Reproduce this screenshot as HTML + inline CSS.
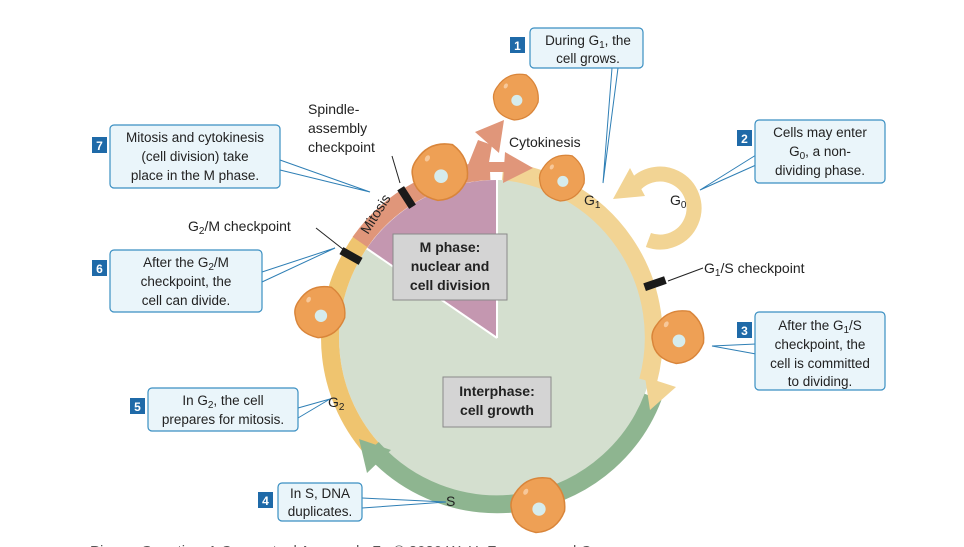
<!DOCTYPE html>
<html><head><meta charset="utf-8"><style>
body{margin:0;background:#fff;}
svg{display:block;font-family:"Liberation Sans","DejaVu Sans",sans-serif;}
</style></head><body>
<svg width="964" height="547" viewBox="0 0 964 547" xmlns="http://www.w3.org/2000/svg">
<defs>
<g id="cell">
<path d="M-22 -12 Q-10 -30 12 -26 Q28 -14 26 6 Q18 26 -2 27 Q-24 22 -26 4 Q-28 -4 -22 -12Z" fill="#eea055" stroke="#d9853a" stroke-width="1.5"/>
<circle cx="1" cy="4" r="6.5" fill="#d6eced"/>
<ellipse cx="-12" cy="-13" rx="2.2" ry="3.2" fill="#f7c89a" transform="rotate(30 -12 -13)"/>
</g>
</defs>
<rect width="964" height="547" fill="#fff"/>
<!-- inner disc -->
<circle cx="497" cy="338" r="159" fill="#d4dfcf"/>
<path d="M497 338 L497 179 A159 159 0 0 0 366 248 Z" fill="#c497b0"/>
<line x1="497" y1="179" x2="497" y2="338" stroke="#fff" stroke-width="2"/>
<line x1="366" y1="248" x2="497" y2="338" stroke="#fff" stroke-width="2"/>
<circle cx="497" cy="338" r="159" fill="none" stroke="#fff" stroke-width="2"/>
<!-- ring segments -->
<g fill="none" stroke-width="18">
<path d="M374.9 451.9 A167 167 0 0 1 352.4 254.5" stroke="#efc46f"/>
<path d="M352.4 254.5 A167 167 0 0 1 363 238" stroke="#efc46f"/>
<path d="M360 242 A167 167 0 0 1 490 171" stroke="#e0967a"/>
<path d="M502.8 171.1 A167 167 0 0 1 648 381" stroke="#f2d494"/>
<path d="M653 397 A167 167 0 0 1 372 448" stroke="#8eb590"/>
</g>
<!-- G0 loop -->
<path d="M648.4 240 A34 34 0 1 0 630.6 191" fill="none" stroke="#f2d494" stroke-width="15"/>
<polygon points="613,199 645,196 630,168" fill="#f2d494"/>
<!-- arrowheads -->
<polygon points="645,377 676,387 650,410" fill="#f2d494"/>
<polygon points="359,439 391,450 367,473" fill="#8eb590"/>
<!-- mitosis arrows -->
<polygon points="468,165 478,140 492,145 488,168" fill="#e0967a"/>
<polygon points="475,132 504,120 499,153" fill="#e0967a"/>
<polygon points="488,162 505,162 505,172 490,172" fill="#e0967a"/>
<polygon points="505,152 533,168 503,183" fill="#e0967a"/>
<!-- checkpoints -->
<g fill="#1a1a1a">
<rect x="-11" y="-4" width="22" height="8" transform="translate(406.6,197.5) rotate(-122.7)"/>
<rect x="-11" y="-4" width="22" height="8" transform="translate(351,256) rotate(-150.8)"/>
<rect x="-11" y="-4" width="22" height="8" transform="translate(655,283.6) rotate(-19)"/>
</g>
<!-- text on ring -->
<text x="0" y="0" font-size="14" fill="#222" transform="translate(368,235) rotate(-58)">Mitosis</text>
<text x="584" y="205" font-size="14" fill="#222">G<tspan font-size="10" dy="3">1</tspan></text>
<text x="670" y="205" font-size="14" fill="#222">G<tspan font-size="10" dy="3">0</tspan></text>
<text x="328" y="407" font-size="14" fill="#222">G<tspan font-size="10" dy="3">2</tspan></text>
<text x="446" y="506" font-size="14" fill="#222">S</text>
<!-- cells -->
<use href="#cell" transform="translate(516,97) scale(0.85)"/>
<use href="#cell" transform="translate(440,172) scale(1.05)"/>
<use href="#cell" transform="translate(562,178) scale(0.85)"/>
<use href="#cell" transform="translate(320,312) scale(0.95)"/>
<use href="#cell" transform="translate(678,337) scale(0.98)"/>
<use href="#cell" transform="translate(538,505) scale(1.02)"/>
<!-- center labels -->
<rect x="393" y="234" width="114" height="66" fill="#d4d4d4" stroke="#8a8a8a"/>
<text font-size="14" font-weight="bold" fill="#222" text-anchor="middle"><tspan x="450" y="252">M phase:</tspan><tspan x="450" y="271">nuclear and</tspan><tspan x="450" y="290">cell division</tspan></text>
<rect x="443" y="377" width="108" height="50" fill="#d4d4d4" stroke="#8a8a8a"/>
<text font-size="14" font-weight="bold" fill="#222" text-anchor="middle"><tspan x="497" y="396">Interphase:</tspan><tspan x="497" y="415">cell growth</tspan></text>
<!-- plain labels -->
<text font-size="14" fill="#222"><tspan x="308" y="114">Spindle-</tspan><tspan x="308" y="133">assembly</tspan><tspan x="308" y="152">checkpoint</tspan></text>
<line x1="392" y1="156" x2="400" y2="183" stroke="#222"/>
<text x="509" y="147" font-size="14" fill="#222">Cytokinesis</text>
<text x="188" y="231" font-size="14" fill="#222">G<tspan font-size="10" dy="3">2</tspan><tspan dy="-3">/M checkpoint</tspan></text>
<line x1="316" y1="228" x2="344" y2="250" stroke="#222"/>
<text x="704" y="273" font-size="14" fill="#222">G<tspan font-size="10" dy="3">1</tspan><tspan dy="-3">/S checkpoint</tspan></text>
<line x1="668" y1="281" x2="703" y2="268" stroke="#222"/>
<!-- leader lines -->
<g stroke="#2f7fb5" stroke-width="1" fill="none">
<polyline points="612,68 603,183 618,68"/>
<polyline points="756,155 700,190 756,165"/>
<polyline points="756,344 712,346 756,354"/>
<polyline points="362,498 446,502 362,508"/>
<polyline points="298,408 330,399 298,418"/>
<polyline points="262,272 335,248 262,282"/>
<polyline points="280,160 370,192 280,170"/>
</g>
<!-- callouts -->
<g fill="#eaf5fa" stroke="#3a8fc2" stroke-width="1.2">
<rect x="530" y="28" width="113" height="40" rx="4"/>
<rect x="755" y="120" width="130" height="63" rx="4"/>
<rect x="755" y="312" width="130" height="78" rx="4"/>
<rect x="278" y="483" width="84" height="38" rx="4"/>
<rect x="148" y="388" width="150" height="43" rx="4"/>
<rect x="110" y="250" width="152" height="62" rx="4"/>
<rect x="110" y="125" width="170" height="63" rx="4"/>
</g>
<g fill="#1f6aa8">
<rect x="510" y="37" width="15" height="16"/><rect x="737" y="130" width="15" height="16"/>
<rect x="737" y="322" width="15" height="16"/><rect x="258" y="492" width="15" height="16"/>
<rect x="130" y="398" width="15" height="16"/><rect x="92" y="260" width="15" height="16"/>
<rect x="92" y="137" width="15" height="16"/>
</g>
<g fill="#fff" font-size="12" font-weight="bold" text-anchor="middle">
<text x="517.5" y="50">1</text><text x="744.5" y="143">2</text><text x="744.5" y="335">3</text>
<text x="265.5" y="505">4</text><text x="137.5" y="411">5</text><text x="99.5" y="273">6</text><text x="99.5" y="150">7</text>
</g>
<g font-size="13.5" fill="#222" text-anchor="middle">
<text><tspan x="588" y="45">During G<tspan font-size="10" dy="3">1</tspan><tspan dy="-3">, the</tspan></tspan><tspan x="588" y="63">cell grows.</tspan></text>
<text><tspan x="820" y="137">Cells may enter</tspan><tspan x="820" y="156">G<tspan font-size="10" dy="3">0</tspan><tspan dy="-3">, a non-</tspan></tspan><tspan x="820" y="175">dividing phase.</tspan></text>
<text><tspan x="820" y="330">After the G<tspan font-size="10" dy="3">1</tspan><tspan dy="-3">/S</tspan></tspan><tspan x="820" y="349">checkpoint, the</tspan><tspan x="820" y="368">cell is committed</tspan><tspan x="820" y="386">to dividing.</tspan></text>
<text><tspan x="320" y="498">In S, DNA</tspan><tspan x="320" y="516">duplicates.</tspan></text>
<text><tspan x="223" y="405">In G<tspan font-size="10" dy="3">2</tspan><tspan dy="-3">, the cell</tspan></tspan><tspan x="223" y="424">prepares for mitosis.</tspan></text>
<text><tspan x="186" y="267">After the G<tspan font-size="10" dy="3">2</tspan><tspan dy="-3">/M</tspan></tspan><tspan x="186" y="286">checkpoint, the</tspan><tspan x="186" y="305">cell can divide.</tspan></text>
<text><tspan x="195" y="142">Mitosis and cytokinesis</tspan><tspan x="195" y="161">(cell division) take</tspan><tspan x="195" y="180">place in the M phase.</tspan></text>
</g>
<text x="90" y="556" font-size="15" fill="#555">Pierce, Genetics: A Conceptual Approach, 7e © 2020 W. H. Freeman and Company</text>
</svg>
</body></html>
